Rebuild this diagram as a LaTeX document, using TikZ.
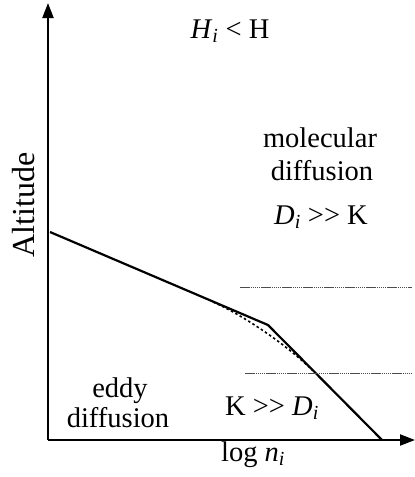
\documentclass[tikz,border=0pt]{standalone}
\usepackage{fontspec}
\setmainfont{Liberation Serif}[Ligatures=TeXOff]
\usepackage{tikz}
\usetikzlibrary{arrows.meta}

\tikzset{
    lbl/.style={font=\fontsize{28.5}{33}\selectfont, inner sep=0pt, anchor=base},
    axis/.style={line width=2.2pt, -{Triangle[length=15pt,width=11pt]}},
    profile/.style={line width=2.2pt},
    guide/.style={line width=1pt, black!70, dash pattern=on 1.5pt off 0.6pt}
}
\newcommand{\ital}[2]{\textit{#1}\textsubscript{\textit{#2}}}

\begin{document}
\begin{tikzpicture}[x=1pt, y=-1pt]
    \useasboundingbox (0,0) rectangle (415,477);

    % axes
    \coordinate (o) at (48,440);
    \coordinate (ytip) at (48,3);
    \coordinate (xtip) at (415,440);
    \draw[axis] (o) -- (ytip);
    \draw[axis] (o) -- (xtip);

    % density profile
    \coordinate (p1) at (50,232);
    \coordinate (kink) at (268,325);
    \coordinate (p2) at (382,440);
    \draw[profile] (p1) -- (kink) -- (p2);

    % smooth transition
    \coordinate (d1) at (213,302);
    \coordinate (c1) at (243,315);
    \coordinate (c2) at (287,345);
    \coordinate (d2) at (312,370);
    \draw[line width=1.6pt, dash pattern=on 2.5pt off 2.5pt] (d1) .. controls (c1) and (c2) .. (d2);

    % homopause bounds
    \coordinate (u1) at (240,287);
    \coordinate (u2) at (412,287);
    \coordinate (w1) at (245,373);
    \coordinate (w2) at (412,373);
    \draw[guide] (u1) -- (u2);
    \draw[guide] (w1) -- (w2);

    % labels
    \node[lbl] (hi) at (230,38) {\ital{H}{i} < H};
    \node[lbl, rotate=90, anchor=center, font=\fontsize{32}{36}\selectfont] (alt) at (24,205) {Altitude};
    \node[lbl] (mol) at (320,147) {molecular};
    \node[lbl] (mdiff) at (322,180) {diffusion};
    \node[lbl] (dk) at (321,224) {\ital{D}{i} >> K};
    \node[lbl] (eddy) at (120,397) {eddy};
    \node[lbl] (ediff) at (118,427) {diffusion};
    \node[lbl] (kd) at (272,415) {K >> \ital{D}{i}};
    \node[lbl] (logn) at (253,461) {log \ital{n}{i}};
\end{tikzpicture}
\end{document}
